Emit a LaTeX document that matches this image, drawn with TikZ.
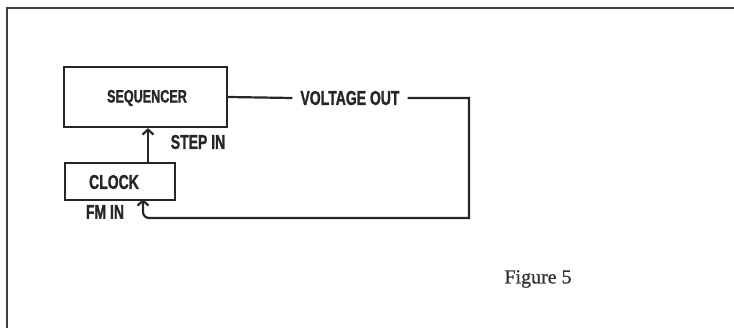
\documentclass[tikz,border=0pt]{standalone}
\usepackage{fontspec}
\usepackage{tikz}
\usetikzlibrary{arrows.meta,positioning}
\newfontfamily\labelfont[UprightFont={* Bold},FakeStretch=0.7,FakeBold=1.2]{Liberation Sans}
\newfontfamily\captfont[FakeBold=0.8]{Liberation Serif}
\tikzset{
  box/.style   = {draw, line width=2.2pt, fill=white, inner sep=0pt},
  wire/.style  = {line width=2.2pt},
  sig/.style   = {-{Straight Barb[length=5pt,width=11pt,line width=2.2pt]}, line width=2.2pt},
  lbl/.style   = {font=\fontsize{20}{20}\selectfont\labelfont, inner sep=0pt, text=black!85},
  frame/.style = {line width=2.4pt, black!75},
}
\begin{document}
\begin{tikzpicture}[x=1pt,y=-1pt,black!85]
  \useasboundingbox (0,0) rectangle (734,328);
  \draw[frame] (7,328) -- (7,8) -- (734,8);
  \node[box, minimum width=163pt, minimum height=60pt] (seq) at (145.5,97) {};
  \node[lbl, font=\fontsize{18}{18}\selectfont\labelfont] (seqtxt) at (147,98) {SEQUENCER};
  \node[box, minimum width=110pt, minimum height=37pt] (clock) at (120,181.5) {};
  \node[lbl] (clocktxt) at (114,182) {CLOCK};
  \node[lbl] (stepin) at (198,142) {STEP IN};
  \node[lbl] (fmin) at (105,212) {FM IN};
  \node[lbl, inner xsep=8pt] (vout) at (350,98) {VOLTAGE OUT};
  \coordinate (stepx) at (148,0);
  \coordinate (fmx) at (143,0);
  \coordinate (ret) at (469,218);
  \draw[sig] (clock.north -| stepx) -- (seq.south -| stepx);
  \draw[wire] (seq.east) -- (vout.west);
  \draw[sig] (vout.east) -| (ret) [rounded corners=6pt] -| ([yshift=2pt]clock.south -| fmx);
  \node[font=\fontsize{20}{20}\selectfont\captfont, text=black!80] (fig) at (538,279) {Figure 5};
\end{tikzpicture}
\end{document}
